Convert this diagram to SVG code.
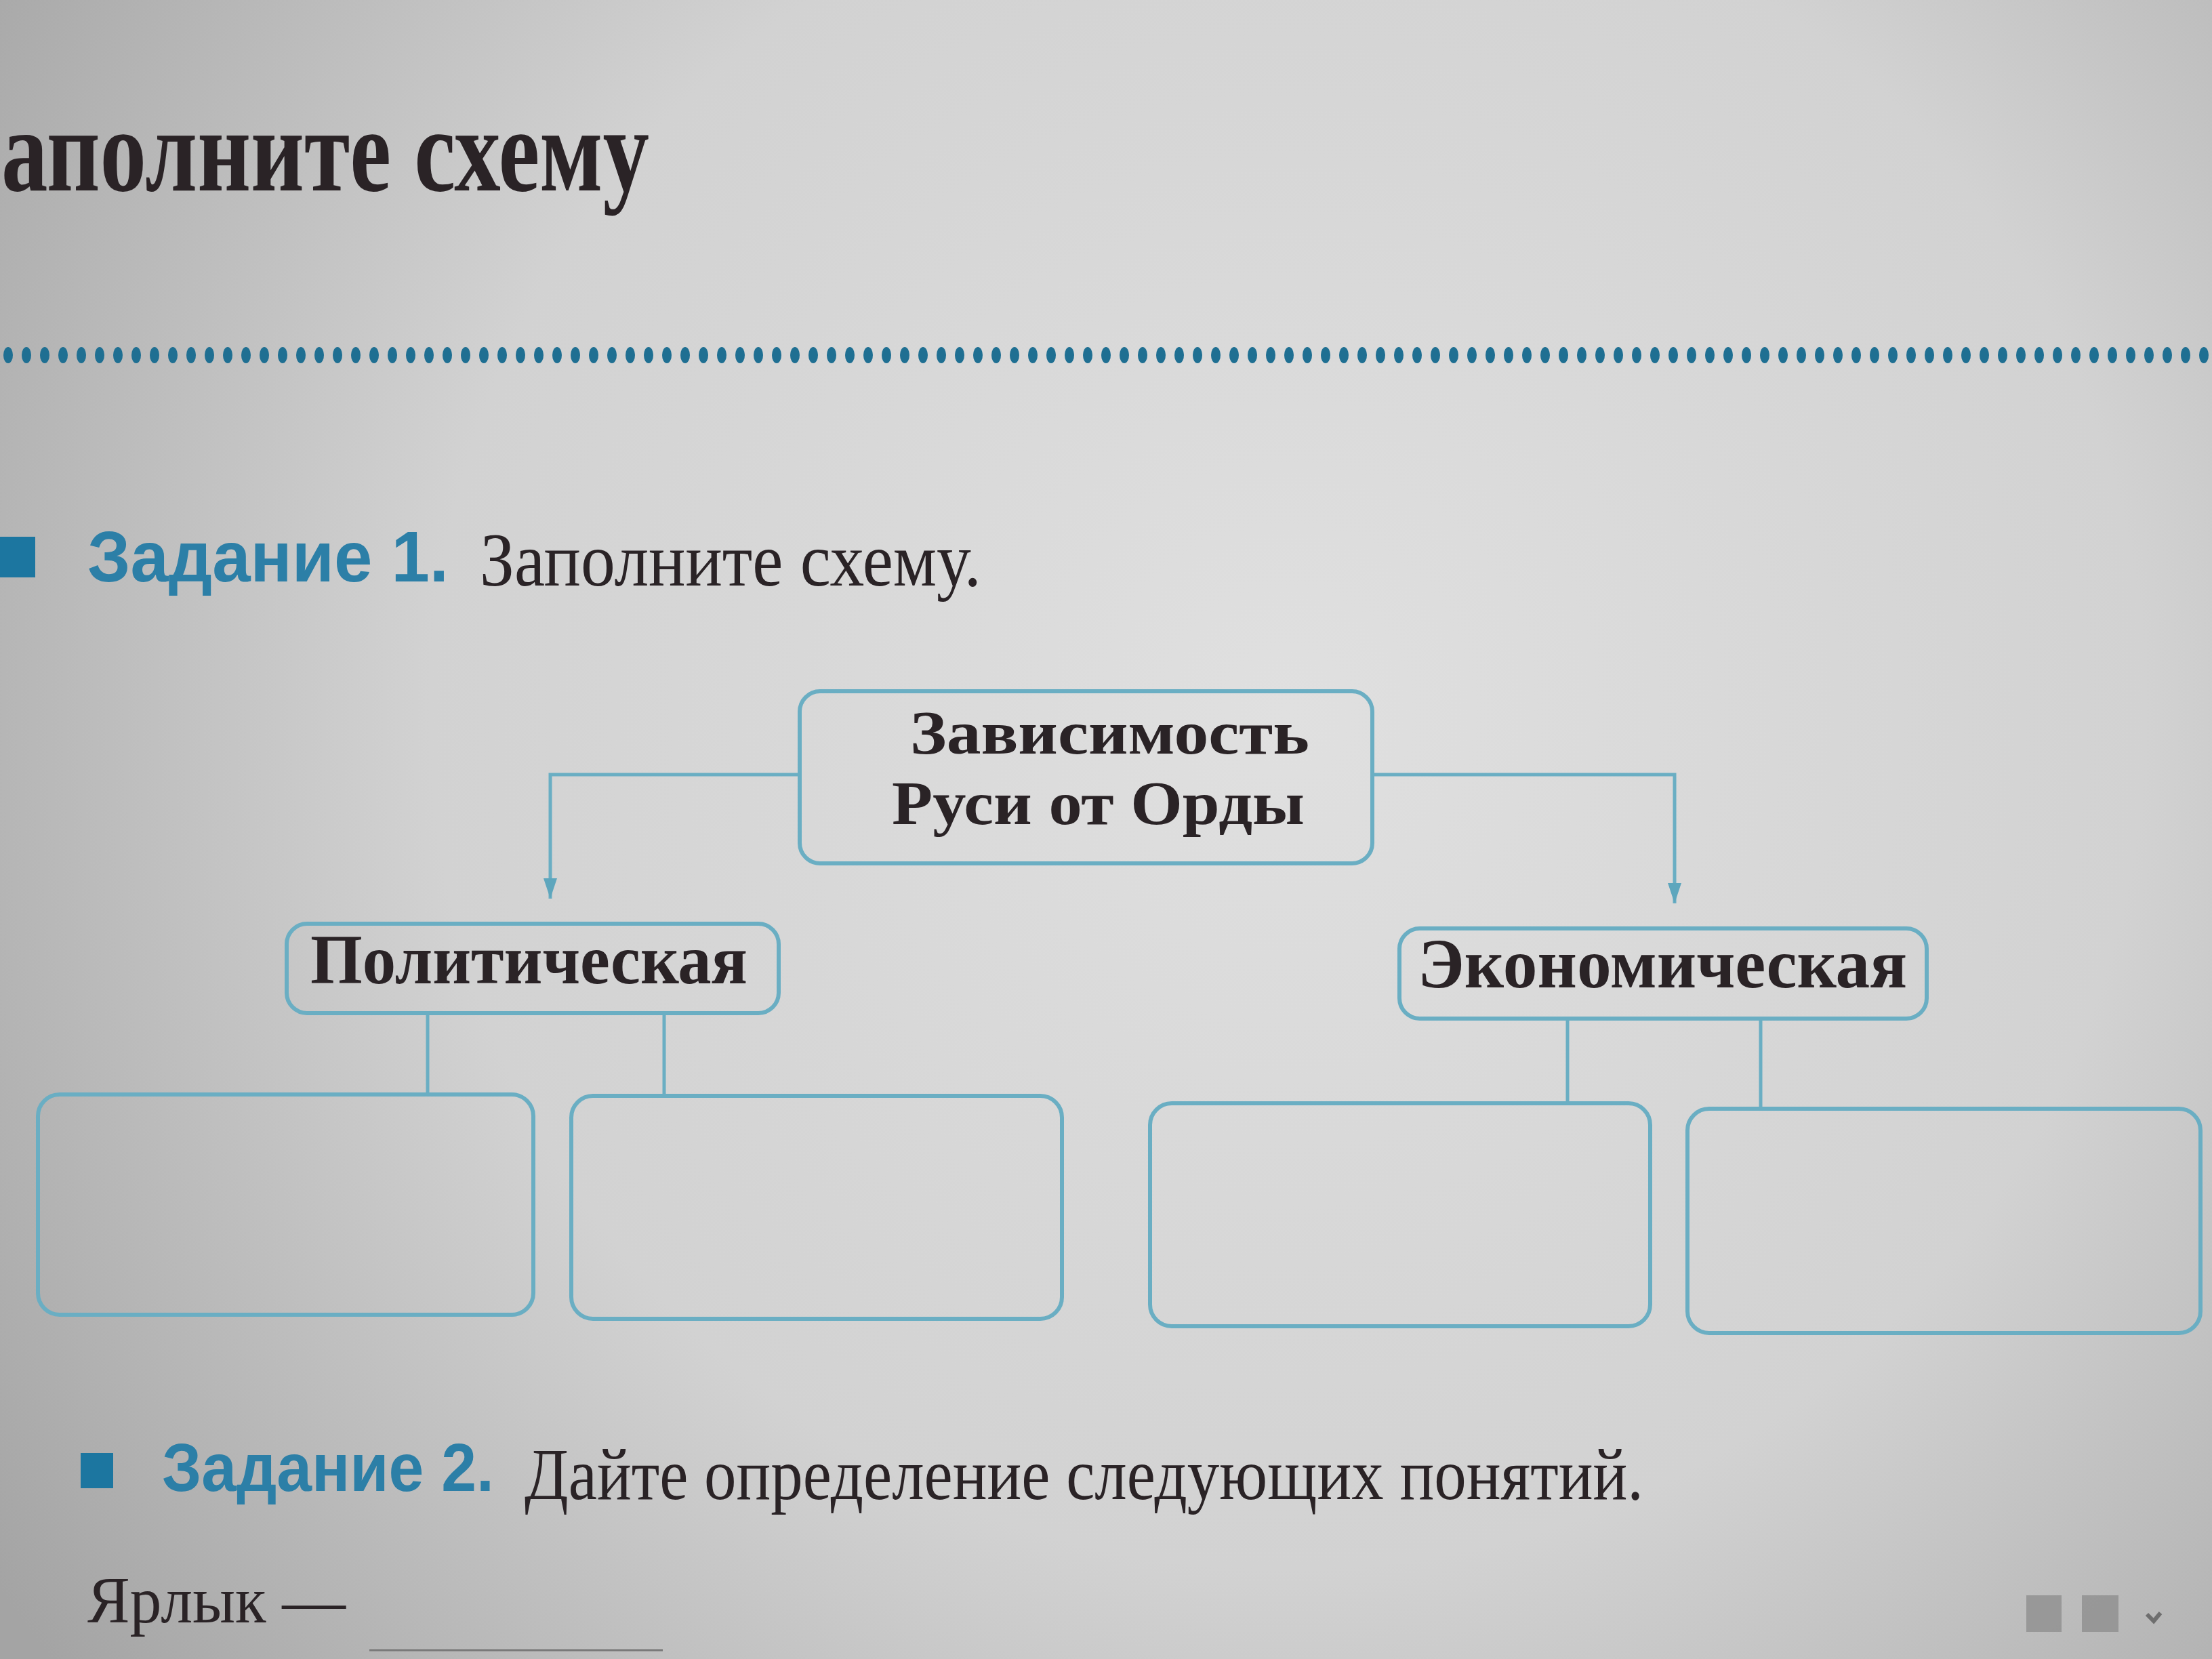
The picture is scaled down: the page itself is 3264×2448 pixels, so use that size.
<svg xmlns="http://www.w3.org/2000/svg" width="3264" height="2448" viewBox="0 0 3264 2448">
<style>
.box{fill:none;stroke:#6aaec3;stroke-width:6}
.con{fill:none;stroke:#6aaec3;stroke-width:5}
.serif{font-family:"Liberation Serif","DejaVu Serif",serif;fill:#2a2326}
.bold{font-weight:bold}
.task{font-family:"Liberation Sans","DejaVu Sans",sans-serif;font-weight:bold;fill:#2c7fa7}
</style>
<defs>
<radialGradient id="bg" cx="1900" cy="1050" r="2300" gradientUnits="userSpaceOnUse">
<stop offset="0" stop-color="#e0e0e0"/>
<stop offset="0.55" stop-color="#d2d2d2"/>
<stop offset="1" stop-color="#a4a4a4"/>
</radialGradient>
<marker id="arr" viewBox="0 0 30 20" refX="30" refY="10" markerWidth="30" markerHeight="20" markerUnits="userSpaceOnUse" orient="auto">
<path d="M0,0 L30,10 L0,20 z" fill="#5ea6bd"/>
</marker>
</defs>
<rect x="0" y="0" width="3264" height="2448" fill="url(#bg)"/>

<g id="header">
<text class="serif bold" x="2" y="281" font-size="176" textLength="956" lengthAdjust="spacingAndGlyphs">аполните схему</text>
</g>

<g id="dotline" fill="#1f6f92">
<ellipse cx="12" cy="524" rx="7" ry="12"/><ellipse cx="39" cy="524" rx="7" ry="12"/><ellipse cx="66" cy="524" rx="7" ry="12"/><ellipse cx="93" cy="524" rx="7" ry="12"/><ellipse cx="120" cy="524" rx="7" ry="12"/><ellipse cx="147" cy="524" rx="7" ry="12"/><ellipse cx="174" cy="524" rx="7" ry="12"/><ellipse cx="201" cy="524" rx="7" ry="12"/><ellipse cx="228" cy="524" rx="7" ry="12"/><ellipse cx="255" cy="524" rx="7" ry="12"/>
<ellipse cx="282" cy="524" rx="7" ry="12"/><ellipse cx="309" cy="524" rx="7" ry="12"/><ellipse cx="336" cy="524" rx="7" ry="12"/><ellipse cx="363" cy="524" rx="7" ry="12"/><ellipse cx="390" cy="524" rx="7" ry="12"/><ellipse cx="417" cy="524" rx="7" ry="12"/><ellipse cx="444" cy="524" rx="7" ry="12"/><ellipse cx="471" cy="524" rx="7" ry="12"/><ellipse cx="498" cy="524" rx="7" ry="12"/><ellipse cx="525" cy="524" rx="7" ry="12"/>
<ellipse cx="552" cy="524" rx="7" ry="12"/><ellipse cx="579" cy="524" rx="7" ry="12"/><ellipse cx="606" cy="524" rx="7" ry="12"/><ellipse cx="633" cy="524" rx="7" ry="12"/><ellipse cx="660" cy="524" rx="7" ry="12"/><ellipse cx="687" cy="524" rx="7" ry="12"/><ellipse cx="714" cy="524" rx="7" ry="12"/><ellipse cx="741" cy="524" rx="7" ry="12"/><ellipse cx="768" cy="524" rx="7" ry="12"/><ellipse cx="795" cy="524" rx="7" ry="12"/>
<ellipse cx="822" cy="524" rx="7" ry="12"/><ellipse cx="849" cy="524" rx="7" ry="12"/><ellipse cx="876" cy="524" rx="7" ry="12"/><ellipse cx="903" cy="524" rx="7" ry="12"/><ellipse cx="930" cy="524" rx="7" ry="12"/><ellipse cx="957" cy="524" rx="7" ry="12"/><ellipse cx="984" cy="524" rx="7" ry="12"/><ellipse cx="1011" cy="524" rx="7" ry="12"/><ellipse cx="1038" cy="524" rx="7" ry="12"/><ellipse cx="1065" cy="524" rx="7" ry="12"/>
<ellipse cx="1092" cy="524" rx="7" ry="12"/><ellipse cx="1119" cy="524" rx="7" ry="12"/><ellipse cx="1146" cy="524" rx="7" ry="12"/><ellipse cx="1173" cy="524" rx="7" ry="12"/><ellipse cx="1200" cy="524" rx="7" ry="12"/><ellipse cx="1227" cy="524" rx="7" ry="12"/><ellipse cx="1254" cy="524" rx="7" ry="12"/><ellipse cx="1281" cy="524" rx="7" ry="12"/><ellipse cx="1308" cy="524" rx="7" ry="12"/><ellipse cx="1335" cy="524" rx="7" ry="12"/>
<ellipse cx="1362" cy="524" rx="7" ry="12"/><ellipse cx="1389" cy="524" rx="7" ry="12"/><ellipse cx="1416" cy="524" rx="7" ry="12"/><ellipse cx="1443" cy="524" rx="7" ry="12"/><ellipse cx="1470" cy="524" rx="7" ry="12"/><ellipse cx="1497" cy="524" rx="7" ry="12"/><ellipse cx="1524" cy="524" rx="7" ry="12"/><ellipse cx="1551" cy="524" rx="7" ry="12"/><ellipse cx="1578" cy="524" rx="7" ry="12"/><ellipse cx="1605" cy="524" rx="7" ry="12"/>
<ellipse cx="1632" cy="524" rx="7" ry="12"/><ellipse cx="1659" cy="524" rx="7" ry="12"/><ellipse cx="1686" cy="524" rx="7" ry="12"/><ellipse cx="1713" cy="524" rx="7" ry="12"/><ellipse cx="1740" cy="524" rx="7" ry="12"/><ellipse cx="1767" cy="524" rx="7" ry="12"/><ellipse cx="1794" cy="524" rx="7" ry="12"/><ellipse cx="1821" cy="524" rx="7" ry="12"/><ellipse cx="1848" cy="524" rx="7" ry="12"/><ellipse cx="1875" cy="524" rx="7" ry="12"/>
<ellipse cx="1902" cy="524" rx="7" ry="12"/><ellipse cx="1929" cy="524" rx="7" ry="12"/><ellipse cx="1956" cy="524" rx="7" ry="12"/><ellipse cx="1983" cy="524" rx="7" ry="12"/><ellipse cx="2010" cy="524" rx="7" ry="12"/><ellipse cx="2037" cy="524" rx="7" ry="12"/><ellipse cx="2064" cy="524" rx="7" ry="12"/><ellipse cx="2091" cy="524" rx="7" ry="12"/><ellipse cx="2118" cy="524" rx="7" ry="12"/><ellipse cx="2145" cy="524" rx="7" ry="12"/>
<ellipse cx="2172" cy="524" rx="7" ry="12"/><ellipse cx="2199" cy="524" rx="7" ry="12"/><ellipse cx="2226" cy="524" rx="7" ry="12"/><ellipse cx="2253" cy="524" rx="7" ry="12"/><ellipse cx="2280" cy="524" rx="7" ry="12"/><ellipse cx="2307" cy="524" rx="7" ry="12"/><ellipse cx="2334" cy="524" rx="7" ry="12"/><ellipse cx="2361" cy="524" rx="7" ry="12"/><ellipse cx="2388" cy="524" rx="7" ry="12"/><ellipse cx="2415" cy="524" rx="7" ry="12"/>
<ellipse cx="2442" cy="524" rx="7" ry="12"/><ellipse cx="2469" cy="524" rx="7" ry="12"/><ellipse cx="2496" cy="524" rx="7" ry="12"/><ellipse cx="2523" cy="524" rx="7" ry="12"/><ellipse cx="2550" cy="524" rx="7" ry="12"/><ellipse cx="2577" cy="524" rx="7" ry="12"/><ellipse cx="2604" cy="524" rx="7" ry="12"/><ellipse cx="2631" cy="524" rx="7" ry="12"/><ellipse cx="2658" cy="524" rx="7" ry="12"/><ellipse cx="2685" cy="524" rx="7" ry="12"/>
<ellipse cx="2712" cy="524" rx="7" ry="12"/><ellipse cx="2739" cy="524" rx="7" ry="12"/><ellipse cx="2766" cy="524" rx="7" ry="12"/><ellipse cx="2793" cy="524" rx="7" ry="12"/><ellipse cx="2820" cy="524" rx="7" ry="12"/><ellipse cx="2847" cy="524" rx="7" ry="12"/><ellipse cx="2874" cy="524" rx="7" ry="12"/><ellipse cx="2901" cy="524" rx="7" ry="12"/><ellipse cx="2928" cy="524" rx="7" ry="12"/><ellipse cx="2955" cy="524" rx="7" ry="12"/>
<ellipse cx="2982" cy="524" rx="7" ry="12"/><ellipse cx="3009" cy="524" rx="7" ry="12"/><ellipse cx="3036" cy="524" rx="7" ry="12"/><ellipse cx="3063" cy="524" rx="7" ry="12"/><ellipse cx="3090" cy="524" rx="7" ry="12"/><ellipse cx="3117" cy="524" rx="7" ry="12"/><ellipse cx="3144" cy="524" rx="7" ry="12"/><ellipse cx="3171" cy="524" rx="7" ry="12"/><ellipse cx="3198" cy="524" rx="7" ry="12"/><ellipse cx="3225" cy="524" rx="7" ry="12"/><ellipse cx="3252" cy="524" rx="7" ry="12"/>
</g>

<g id="task1">
<rect x="0" y="792" width="52" height="60" fill="#1c76a0"/>
<text class="task" x="129" y="858" font-size="106" textLength="533" lengthAdjust="spacingAndGlyphs">Задание 1.</text>
<text class="serif" x="708" y="864" font-size="112" textLength="740" lengthAdjust="spacingAndGlyphs">Заполните схему.</text>
</g>

<g id="connectors">
<path class="con" d="M1180,1143 H812 V1326" marker-end="url(#arr)"/>
<path class="con" d="M2025,1143 H2471 V1333" marker-end="url(#arr)"/>
<path class="con" d="M631,1495 V1615"/>
<path class="con" d="M980,1495 V1617"/>
<path class="con" d="M2313,1503 V1628"/>
<path class="con" d="M2598,1503 V1636"/>
</g>

<g id="node-root">
<rect class="box" x="1180" y="1020" width="845" height="254" rx="30"/>
<text class="serif bold" x="1343" y="1112" font-size="92" textLength="589" lengthAdjust="spacingAndGlyphs">Зависимость</text>
<text class="serif bold" x="1316" y="1216" font-size="92" textLength="609" lengthAdjust="spacingAndGlyphs">Руси от Орды</text>
</g>

<g id="node-political">
<rect class="box" x="423" y="1363" width="726" height="132" rx="30"/>
<text class="serif bold" x="458" y="1451" font-size="104" textLength="645" lengthAdjust="spacingAndGlyphs">Политическая</text>
</g>

<g id="node-economic">
<rect class="box" x="2065" y="1370" width="778" height="133" rx="30"/>
<text class="serif bold" x="2092" y="1457" font-size="104" textLength="722" lengthAdjust="spacingAndGlyphs">Экономическая</text>
</g>

<g id="node-p1"><rect class="box" x="56" y="1615" width="731" height="325" rx="32"/></g>
<g id="node-p2"><rect class="box" x="843" y="1617" width="724" height="329" rx="32"/></g>
<g id="node-e1"><rect class="box" x="1697" y="1628" width="738" height="329" rx="32"/></g>
<g id="node-e2"><rect class="box" x="2490" y="1636" width="757" height="331" rx="32"/></g>

<g id="task2">
<rect x="119" y="2144" width="48" height="52" fill="#1c76a0"/>
<text class="task" x="239" y="2200" font-size="100" textLength="490" lengthAdjust="spacingAndGlyphs">Задание 2.</text>
<text class="serif" x="774" y="2212" font-size="108" textLength="1651" lengthAdjust="spacingAndGlyphs">Дайте определение следующих понятий.</text>
</g>

<g id="footer">
<text class="serif" x="129" y="2394" font-size="98" textLength="381" lengthAdjust="spacingAndGlyphs">Ярлык —</text>
<path d="M545,2435 H978" stroke="#7a7a7a" stroke-width="3" fill="none"/>
<rect x="2990" y="2354" width="52" height="54" fill="#8e8e8e" opacity="0.8"/>
<rect x="3072" y="2354" width="54" height="54" fill="#8e8e8e" opacity="0.8"/>
<path d="M3168,2382 l10,10 l10,-12" stroke="#6e6e6e" stroke-width="6" fill="none"/>
</g>
</svg>
